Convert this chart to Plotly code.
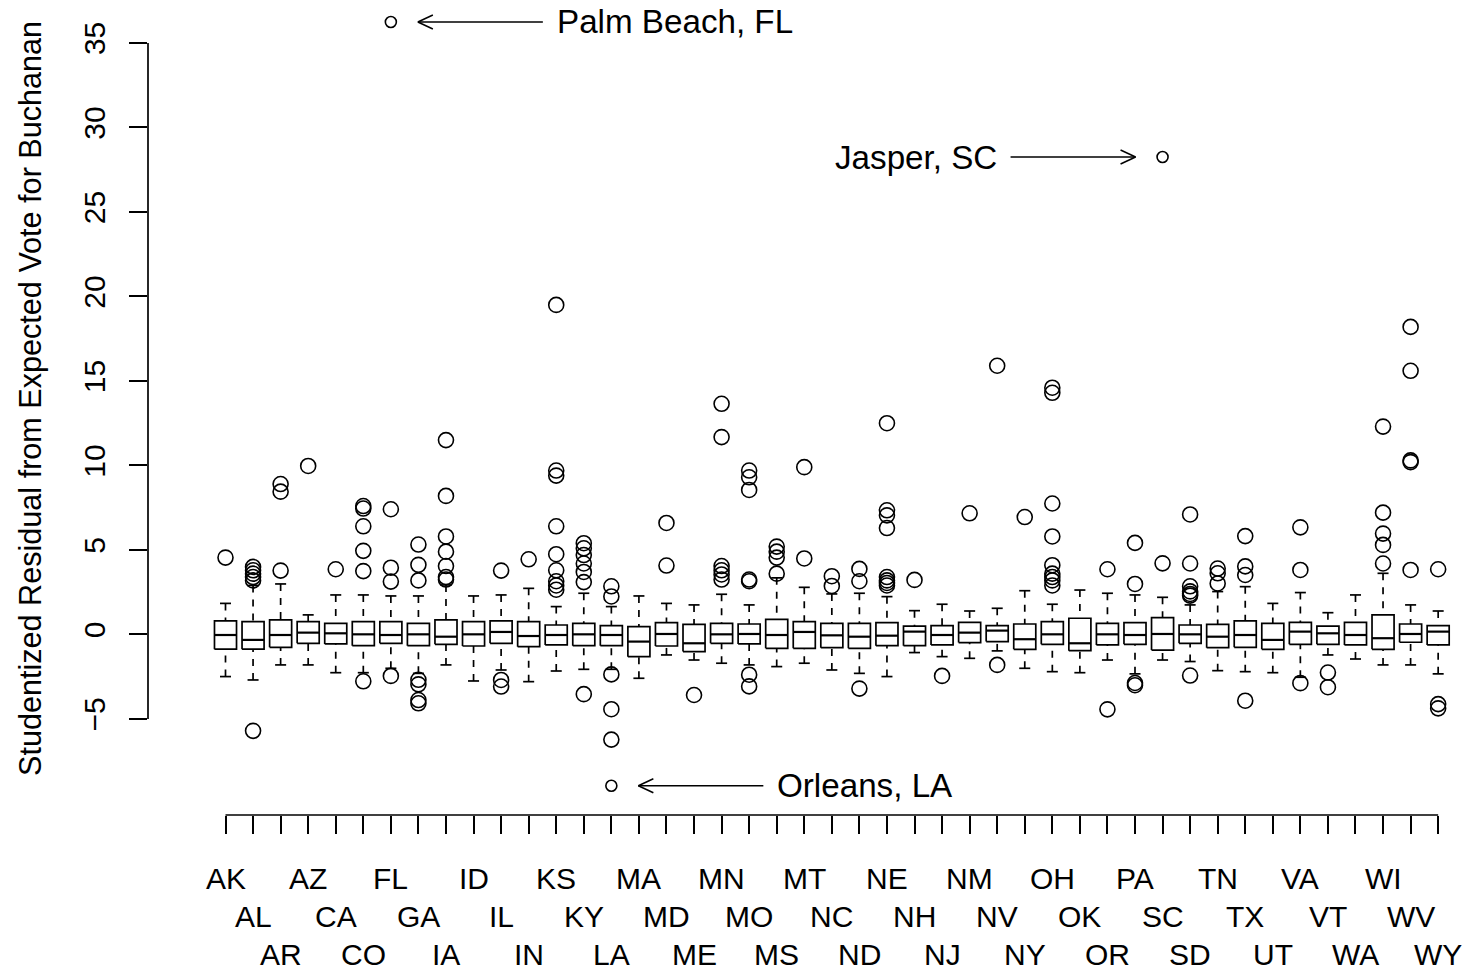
import plotly.graph_objects as go

states = ["AK", "AL", "AR", "AZ", "CA", "CO", "FL", "GA", "IA", "ID", "IL", "IN", "KS", "KY", "LA",
          "MA", "MD", "ME", "MN", "MO", "MS", "MT", "NC", "ND", "NE", "NH", "NJ", "NM", "NV", "NY",
          "OH", "OK", "OR", "PA", "SC", "SD", "TN", "TX", "UT", "VA", "VT", "WA", "WI", "WV", "WY"]

lower_whisker = [-2.49, -2.69, -1.80, -1.80, -2.26, -2.26, -2.00, -2.30, -1.80, -2.75, -2.10, -2.79, -2.16, -2.06, -2.06,
                 -2.59, -1.21, -1.51, -1.70, -1.80, -1.90, -1.70, -2.10, -2.30, -2.49, -1.07, -1.31, -1.41, -0.97, -2.00,
                 -2.20, -2.26, -1.51, -2.33, -1.51, -1.60, -2.14, -2.20, -2.26, -2.53, -1.21, -1.45, -1.80, -1.80, -2.33]
q1 = [-0.87, -0.87, -0.76, -0.52, -0.56, -0.66, -0.52, -0.66, -0.58, -0.68, -0.52, -0.72, -0.62, -0.66, -0.66,
      -1.31, -0.68, -1.01, -0.52, -0.56, -0.82, -0.82, -0.78, -0.82, -0.66, -0.66, -0.62, -0.48, -0.42, -0.88,
      -0.58, -0.96, -0.62, -0.58, -0.92, -0.52, -0.78, -0.76, -0.88, -0.58, -0.58, -0.62, -0.88, -0.46, -0.62]
median = [-0.03, -0.32, -0.03, 0.11, 0.07, 0.01, -0.03, 0.01, -0.13, 0.01, 0.15, -0.09, -0.03, 0.01, -0.03,
          -0.42, 0.03, -0.52, 0.01, 0.03, -0.03, 0.15, -0.05, -0.13, -0.07, 0.17, -0.03, 0.11, 0.23, -0.28,
          0.01, -0.52, 0.01, -0.03, 0.03, 0.01, -0.13, -0.03, -0.32, 0.17, 0.07, -0.03, -0.22, 0.03, 0.17]
q3 = [0.80, 0.76, 0.86, 0.76, 0.66, 0.76, 0.76, 0.66, 0.86, 0.76, 0.80, 0.76, 0.56, 0.66, 0.52,
      0.47, 0.70, 0.60, 0.66, 0.62, 0.90, 0.76, 0.66, 0.66, 0.70, 0.50, 0.52, 0.72, 0.52, 0.62,
      0.76, 0.96, 0.66, 0.70, 1.00, 0.56, 0.60, 0.80, 0.66, 0.72, 0.50, 0.72, 1.16, 0.62, 0.52]
upper_whisker = [1.84, 2.90, 2.99, 1.16, 2.34, 2.34, 2.28, 2.28, 2.93, 2.28, 2.34, 2.73, 1.65, 2.44, 1.65,
                 2.28, 1.84, 1.75, 2.38, 1.75, 3.35, 2.79, 2.40, 2.44, 2.24, 1.41, 1.79, 1.39, 1.55, 2.59,
                 1.79, 2.63, 2.44, 2.34, 2.20, 1.75, 2.54, 2.83, 1.84, 2.48, 1.29, 2.34, 3.62, 1.75, 1.39]
outliers = [
    [4.55],
    [4.0, 3.8, 3.6, 3.4, 3.2, -5.7],
    [8.9, 8.45, 3.78],
    [9.97],
    [3.86],
    [7.6, 7.45, 6.4, 4.95, 3.75, -2.77],
    [7.41, 3.95, 3.13, -2.45],
    [5.32, 4.12, 3.2, -2.68, -2.95, -3.88, -4.07],
    [11.5, 8.2, 5.8, 4.9, 4.05, 3.4, 3.25],
    [],
    [3.78, -2.69, -3.08],
    [4.45],
    [19.5, 9.7, 9.4, 6.4, 4.75, 3.8, 3.15, 2.9, 2.65],
    [5.4, 5.1, 4.7, 4.2, 3.7, 3.1, -3.53],
    [2.85, 2.25, -2.36, -4.42, -6.22],
    [],
    [6.6, 4.08],
    [-3.58],
    [13.65, 11.68, 4.05, 3.8, 3.55, 3.25],
    [9.7, 9.3, 8.55, 3.25, 3.15, -2.38, -3.07],
    [5.2, 4.9, 4.55, 3.6],
    [9.9, 4.5],
    [3.45, 2.87],
    [3.88, 3.15, -3.2],
    [12.5, 7.35, 7.05, 6.3, 3.4, 3.2, 3.05, 2.9],
    [3.23],
    [-2.45],
    [7.17],
    [15.9, -1.8],
    [6.95],
    [14.6, 14.3, 7.75, 5.8, 4.1, 3.6, 3.4, 3.2, 2.9],
    [],
    [3.86, -4.43],
    [5.42, 2.99, -2.87, -3.0],
    [4.21],
    [7.1, 4.2, 2.85, 2.55, 2.4, 2.3, -2.43],
    [3.9, 3.62, 3.02],
    [5.82, 4.03, 3.52, -3.92],
    [],
    [6.34, 3.82, -2.88],
    [-2.25, -3.12],
    [],
    [12.3, 7.21, 5.97, 5.3, 4.2],
    [18.2, 15.6, 10.3, 10.2, 3.82],
    [3.86, -4.12, -4.37],
]

labeled_state = ["FL", "SC", "LA"]
labeled_value = [36.24, 28.25, -8.95]
labeled_name = ["Palm Beach, FL", "Jasper, SC", "Orleans, LA"]
labeled_side = ["right", "left", "right"]

y_ticks = [-5, 0, 5, 10, 15, 20, 25, 30, 35]
y_title = "Studentized Residual from Expected Vote for Buchanan"

FONT = "Liberation Sans, Arial, Helvetica, sans-serif"
LW = 1.7
positions = list(range(1, len(states) + 1))
HALF_BOX = 0.4
HALF_CAP = 0.2

box_x, box_y, med_x, med_y = [], [], [], []
wh_x, wh_y, cap_x, cap_y = [], [], [], []
out_x, out_y = [], []
for p, lo, a, m, b, hi, outs in zip(positions, lower_whisker, q1, median, q3, upper_whisker, outliers):
    box_x += [p - HALF_BOX, p + HALF_BOX, p + HALF_BOX, p - HALF_BOX, p - HALF_BOX, None]
    box_y += [a, a, b, b, a, None]
    med_x += [p - HALF_BOX, p + HALF_BOX, None]
    med_y += [m, m, None]
    wh_x += [p, p, None, p, p, None]
    wh_y += [lo, a, None, hi, b, None]
    cap_x += [p - HALF_CAP, p + HALF_CAP, None, p - HALF_CAP, p + HALF_CAP, None]
    cap_y += [lo, lo, None, hi, hi, None]
    for o in outs:
        out_x.append(p)
        out_y.append(o)

fig = go.Figure()
fig.add_trace(go.Scatter(x=wh_x, y=wh_y, mode="lines", line=dict(color="black", width=LW, dash="7px,7px"),
                         hoverinfo="skip", cliponaxis=False))
fig.add_trace(go.Scatter(x=cap_x, y=cap_y, mode="lines", line=dict(color="black", width=LW),
                         hoverinfo="skip", cliponaxis=False))
fig.add_trace(go.Scatter(x=box_x, y=box_y, mode="lines", line=dict(color="black", width=LW),
                         hoverinfo="skip", cliponaxis=False))
fig.add_trace(go.Scatter(x=med_x, y=med_y, mode="lines", line=dict(color="black", width=2.2),
                         hoverinfo="skip", cliponaxis=False))
fig.add_trace(go.Scatter(x=out_x, y=out_y, mode="markers",
                         marker=dict(symbol="circle-open", size=15, color="black", line=dict(width=1.6)),
                         cliponaxis=False))

lab_x = [states.index(s) + 1 for s in labeled_state]
fig.add_trace(go.Scatter(x=lab_x, y=labeled_value, mode="markers",
                         marker=dict(symbol="circle-open", size=11, color="black", line=dict(width=1.6)),
                         cliponaxis=False))

shapes = []
annotations = []
TIP, TAIL, TEXT_OFF, HEAD_L, HEAD_H = 27, 152, 164, 15, 7
for xi, yv, name, side in zip(lab_x, labeled_value, labeled_name, labeled_side):
    s = 1 if side == "right" else -1
    common = dict(type="line", xref="x", yref="y", xsizemode="pixel", ysizemode="pixel",
                  xanchor=xi, yanchor=yv, line=dict(color="black", width=1.5))
    shapes.append(dict(x0=s * TIP, x1=s * TAIL, y0=0, y1=0, **common))
    shapes.append(dict(x0=s * TIP, x1=s * (TIP + HEAD_L), y0=0, y1=HEAD_H, **common))
    shapes.append(dict(x0=s * TIP, x1=s * (TIP + HEAD_L), y0=0, y1=-HEAD_H, **common))
    annotations.append(dict(x=xi, y=yv, xref="x", yref="y", text=name, showarrow=False,
                            xanchor="left" if s == 1 else "right", yanchor="middle",
                            xshift=s * TEXT_OFF, font=dict(family=FONT, size=33.2, color="black")))

# R-style axis lines spanning first to last tick
shapes.append(dict(type="line", xref="x", yref="paper", x0=positions[0], x1=positions[-1], y0=0, y1=0,
                   line=dict(color="black", width=LW)))
shapes.append(dict(type="line", xref="paper", yref="y", x0=0, x1=0, y0=y_ticks[0], y1=y_ticks[-1],
                   line=dict(color="black", width=LW)))

# staggered state labels
for i, (p, s) in enumerate(zip(positions, states)):
    row = i % 3
    annotations.append(dict(x=p, y=0, xref="x", yref="paper", text=s, showarrow=False,
                            xanchor="center", yanchor="middle", yshift=-(63 + 38 * row),
                            font=dict(family=FONT, size=30, color="black")))

annotations.append(dict(x=0, y=0.5, xref="paper", yref="paper", text=y_title, showarrow=False,
                        textangle=-90, xanchor="center", yanchor="middle", xshift=-118, yshift=8.5,
                        font=dict(family=FONT, size=30.6, color="black")))

fig.update_layout(
    width=1468, height=977,
    margin=dict(l=148, r=2, t=0, b=162),
    plot_bgcolor="white", paper_bgcolor="white",
    showlegend=False,
    shapes=shapes,
    annotations=annotations,
    xaxis=dict(range=[-1.812, 46.01], tickvals=positions, ticks="outside", ticklen=18, tickwidth=LW,
               tickcolor="black", showticklabels=False, showgrid=False, zeroline=False, showline=False),
    yaxis=dict(range=[-10.68, 37.54], tickvals=y_ticks, ticks="outside", ticklen=18, tickwidth=LW,
               tickcolor="black", tickangle=-90, showgrid=False, zeroline=False, showline=False,
               tickfont=dict(family=FONT, size=30, color="black"), ticklabelstandoff=12),
)

fig.write_html("out.html", config={"displayModeBar": False},
               post_script="document.body.style.margin='0px';")
